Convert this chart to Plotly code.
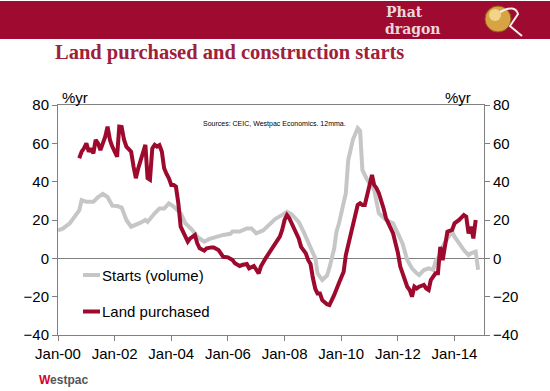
import plotly.graph_objects as go

# ---- data ----
starts_dates = ["2000-01", "2000-03", "2000-06", "2000-08", "2000-10", "2000-11", "2001-01", "2001-04",
                "2001-06", "2001-08", "2001-10", "2001-12", "2002-02", "2002-04", "2002-06", "2002-08",
                "2002-10", "2002-12", "2003-02", "2003-03", "2003-06", "2003-08", "2003-10", "2003-12",
                "2004-02", "2004-05", "2004-07", "2004-10", "2004-12", "2005-03", "2005-05", "2005-08",
                "2005-11", "2006-02", "2006-03", "2006-06", "2006-09", "2006-11", "2007-01", "2007-04",
                "2007-07", "2007-09", "2007-12", "2008-02", "2008-04", "2008-07", "2008-09", "2008-12",
                "2009-02", "2009-03", "2009-05", "2009-07", "2009-08", "2009-10", "2009-11", "2009-12",
                "2010-01", "2010-03", "2010-04", "2010-05", "2010-06", "2010-08", "2010-09", "2010-10",
                "2010-12", "2011-03", "2011-04", "2011-05", "2011-08", "2011-11", "2012-01", "2012-03",
                "2012-05", "2012-07", "2012-09", "2012-10", "2012-12", "2013-02", "2013-04", "2013-05",
                "2013-07", "2013-08", "2013-10", "2013-12", "2014-01", "2014-03", "2014-05", "2014-07",
                "2014-08", "2014-10", "2014-11"]
starts_values = [14.6, 15.5, 18.3, 21.7, 25, 30.4, 29.5, 29.5,
                 32, 33.6, 32, 27.5, 27.3, 26.5, 20, 16.5,
                 17.4, 18.6, 20, 19, 23.5, 26, 26, 28.7,
                 27, 23.5, 18.3, 14.6, 11.3, 8.7, 10, 11.3,
                 12.2, 12.8, 14, 14, 15.6, 15.6, 13, 14.6,
                 18.3, 20.5, 22.6, 24.3, 23, 19, 13.9, 6,
                 0, -7.8, -11.3, -9, -5, 5, 14, 18,
                 23.5, 34, 51.3, 57, 62, 67.9, 66.5, 46,
                 41, 35.7, 28.7, 23.5, 20, 18.3, 13, 7.8,
                 -0.9, -5.2, -7.8, -8.7, -6.1, -5.2, -6, -1.7,
                 1.7, 6.1, 10.4, 13.9, 11.3, 7.8, 4.3, 1.7,
                 2.6, 3.5, -6]

land_dates = ["2000-10", "2000-11", "2000-12", "2001-01", "2001-02", "2001-03", "2001-04", "2001-05",
              "2001-06", "2001-07", "2001-08", "2001-09", "2001-10", "2001-11", "2001-12", "2002-02",
              "2002-03", "2002-04", "2002-05", "2002-06", "2002-07", "2002-08", "2002-09", "2002-10",
              "2002-11", "2002-12", "2003-01", "2003-02", "2003-03", "2003-04", "2003-05", "2003-06",
              "2003-07", "2003-08", "2003-09", "2003-10", "2003-11", "2003-12", "2004-01", "2004-02",
              "2004-03", "2004-04", "2004-05", "2004-06", "2004-07", "2004-08", "2004-09", "2004-10",
              "2004-11", "2004-12", "2005-01", "2005-03", "2005-04", "2005-06", "2005-07", "2005-09",
              "2005-10", "2005-11", "2006-01", "2006-03", "2006-04", "2006-06", "2006-07", "2006-09",
              "2006-10", "2006-12", "2007-02", "2007-03", "2007-05", "2007-07", "2007-09", "2007-11",
              "2007-12", "2008-01", "2008-02", "2008-03", "2008-04", "2008-05", "2008-07", "2008-08",
              "2008-10", "2008-11", "2008-12", "2009-01", "2009-02", "2009-03", "2009-04", "2009-05",
              "2009-07", "2009-08", "2009-09", "2009-10", "2009-12", "2010-02", "2010-03", "2010-05",
              "2010-06", "2010-07", "2010-08", "2010-09", "2010-10", "2010-11", "2010-12", "2011-01",
              "2011-02", "2011-03", "2011-04", "2011-05", "2011-06", "2011-07", "2011-08", "2011-09",
              "2011-10", "2011-11", "2011-12", "2012-01", "2012-02", "2012-03", "2012-05", "2012-06",
              "2012-07", "2012-08", "2012-09", "2012-10", "2012-12", "2013-01", "2013-02", "2013-03",
              "2013-05", "2013-06", "2013-07", "2013-08", "2013-09", "2013-10", "2013-12", "2014-01",
              "2014-03", "2014-05", "2014-06", "2014-07", "2014-08", "2014-09", "2014-10"]
land_values = [52.2, 55.7, 57.4, 60, 55.7, 57.4, 54.8, 61.8,
               60, 56.5, 60, 63.5, 68.7, 61.8, 58.3, 53,
               68.7, 68.5, 62, 58.3, 57, 55.7, 48, 41.8,
               47, 51.3, 55, 59.2, 41.8, 41, 57.4, 59.2,
               58.3, 59, 55.7, 47, 44, 41.8, 38.3, 38.3,
               37.4, 28.7, 16.5, 13.9, 11.3, 8.7, 10.4, 11.3,
               12.2, 7.8, 5.2, 4, 5.2, 5.7, 5.7, 4.3,
               2.2, 0.8, 0.5, -0.9, -2.6, -4, -3.5, -3,
               -5.2, -4, -7.8, -4.3, 0, 3.5, 7.8, 11.3,
               14.8, 20, 22.6, 21, 18.3, 15.7, 10.4, 6,
               2.6, -1, -3, -10.4, -16, -18.3, -18.3, -21.8,
               -24, -24.4, -22, -19.2, -13, -7, 1.7, 12.2,
               18, 24, 27.8, 28.7, 27.8, 27.8, 33, 37.4,
               43.5, 38.3, 36.6, 34, 30.4, 26, 21, 18.3,
               14.8, 13, 8, 3, -4.3, -7.8, -14.8, -16.5,
               -20, -14.8, -15.7, -14.8, -13.9, -15.7, -16.5, -11.3,
               -7.8, -7.8, 6, -0.9, 7, 13.9, 14.8, 18.3,
               20, 22.6, 21.7, 13, 16.5, 10.4, 20]

series_names = ["Starts (volume)", "Land purchased"]
y_ticks = [-40, -20, 0, 20, 40, 60, 80]

# ---- style ----
RED = "#9E0A2E"
GRAY = "#C6C6C6"
AXIS = "#808080"
FONT = "Liberation Sans, Arial, sans-serif"

W, H = 550, 391
L, R, T, B = 58, 66, 105, 56
PW, PH = W - L - R, H - T - B


def px(x):
    return (x - L) / PW


def py(y):
    return (H - B - y) / PH


fig = go.Figure()
fig.add_trace(go.Scatter(x=starts_dates, y=starts_values, mode="lines", name=series_names[0],
                         line=dict(color=GRAY, width=4), hoverinfo="skip", showlegend=False))
fig.add_trace(go.Scatter(x=land_dates, y=land_values, mode="lines", name=series_names[1],
                         line=dict(color=RED, width=4), hoverinfo="skip", showlegend=False))
fig.add_trace(go.Scatter(x=[], y=[], yaxis="y2", showlegend=False, hoverinfo="skip"))

shapes = [
    # top banner
    dict(type="rect", xref="paper", yref="paper", x0=px(0), x1=px(550), y0=py(1), y1=py(39),
         fillcolor="#9F0A30", line=dict(width=0), layer="below"),
    # dragon ball
    dict(type="circle", xref="paper", yref="paper", x0=px(485), x1=px(511), y0=py(6), y1=py(32),
         fillcolor="#D7A343", line=dict(color="#8A5A20", width=1)),
    dict(type="circle", xref="paper", yref="paper", x0=px(489), x1=px(501), y0=py(9), y1=py(21),
         fillcolor="#F1D38A", line=dict(width=0)),
    dict(type="path", xref="paper", yref="paper",
         path=f"M {px(500)},{py(12)} Q {px(515)},{py(4)} {px(518)},{py(14)} "
              f"L {px(510)},{py(26)} L {px(522)},{py(36)}",
         line=dict(color="#F4ECEC", width=2)),
    # manual legend lines
    dict(type="line", xref="paper", yref="paper", x0=px(83), x1=px(100), y0=py(275), y1=py(275),
         line=dict(color=GRAY, width=4)),
    dict(type="line", xref="paper", yref="paper", x0=px(83), x1=px(100), y0=py(311.5), y1=py(311.5),
         line=dict(color=RED, width=4)),
]

annotations = [
    dict(text="<b>Land purchased and construction starts</b>", x=px(229), y=py(52), xref="paper",
         yref="paper", showarrow=False, xanchor="center", yanchor="middle",
         font=dict(family="Liberation Serif, Times New Roman, serif", size=20.5, color="#A0203A")),
    dict(text="<b>Phat</b>", x=px(384), y=py(11.5), xref="paper", yref="paper", showarrow=False,
         xanchor="left", yanchor="middle",
         font=dict(family="DejaVu Serif, serif", size=14, color="#EAD7DA")),
    dict(text="<b>dragon</b>", x=px(383), y=py(29), xref="paper", yref="paper", showarrow=False,
         xanchor="left", yanchor="middle",
         font=dict(family="DejaVu Serif, serif", size=14, color="#EAD7DA")),
    dict(text="%yr", x=px(75), y=py(97), xref="paper", yref="paper", showarrow=False,
         xanchor="center", yanchor="middle", font=dict(family=FONT, size=15, color="black")),
    dict(text="%yr", x=px(458), y=py(97), xref="paper", yref="paper", showarrow=False,
         xanchor="center", yanchor="middle", font=dict(family=FONT, size=15, color="black")),
    dict(text="Sources: CEIC, Westpac Economics. 12mma.", x=px(274), y=py(124), xref="paper",
         yref="paper", showarrow=False, xanchor="center", yanchor="middle",
         font=dict(family=FONT, size=7, color="black")),
    dict(text=series_names[0], x=px(100), y=py(275), xref="paper", yref="paper", showarrow=False,
         xanchor="left", yanchor="middle", font=dict(family=FONT, size=15, color="black")),
    dict(text=series_names[1], x=px(100), y=py(311.5), xref="paper", yref="paper", showarrow=False,
         xanchor="left", yanchor="middle", font=dict(family=FONT, size=15, color="black")),
    dict(text="<span style='color:#D5002B'><b>W</b></span><b>estpac</b>", x=px(37), y=py(380),
         xref="paper", yref="paper", showarrow=False, xanchor="left", yanchor="middle",
         font=dict(family=FONT, size=12, color="#555555")),
]

axis_common = dict(showgrid=False, showline=True, linecolor=AXIS, linewidth=1,
                   ticks="outside", ticklen=5, tickcolor=AXIS,
                   tickfont=dict(family=FONT, size=15, color="black"))

fig.update_layout(
    width=W, height=H,
    margin=dict(l=L, r=R, t=T, b=B, pad=0),
    paper_bgcolor="white", plot_bgcolor="white",
    showlegend=False,
    shapes=shapes, annotations=annotations,
    xaxis=dict(type="date", range=["2000-01-01", "2015-01-16"], tickformat="%b-%y",
               dtick="M24", tick0="2000-01-01", mirror=True, **axis_common),
    yaxis=dict(range=[-40, 80], tickvals=y_ticks, zeroline=True, zerolinecolor=AXIS,
               zerolinewidth=1, **axis_common),
    yaxis2=dict(range=[-40, 80], tickvals=y_ticks, overlaying="y", side="right",
                zeroline=False, **axis_common),
)

fig.write_html("out.html", config={"displayModeBar": False},
               post_script="document.body.style.margin='0';document.body.style.overflow='hidden';")
